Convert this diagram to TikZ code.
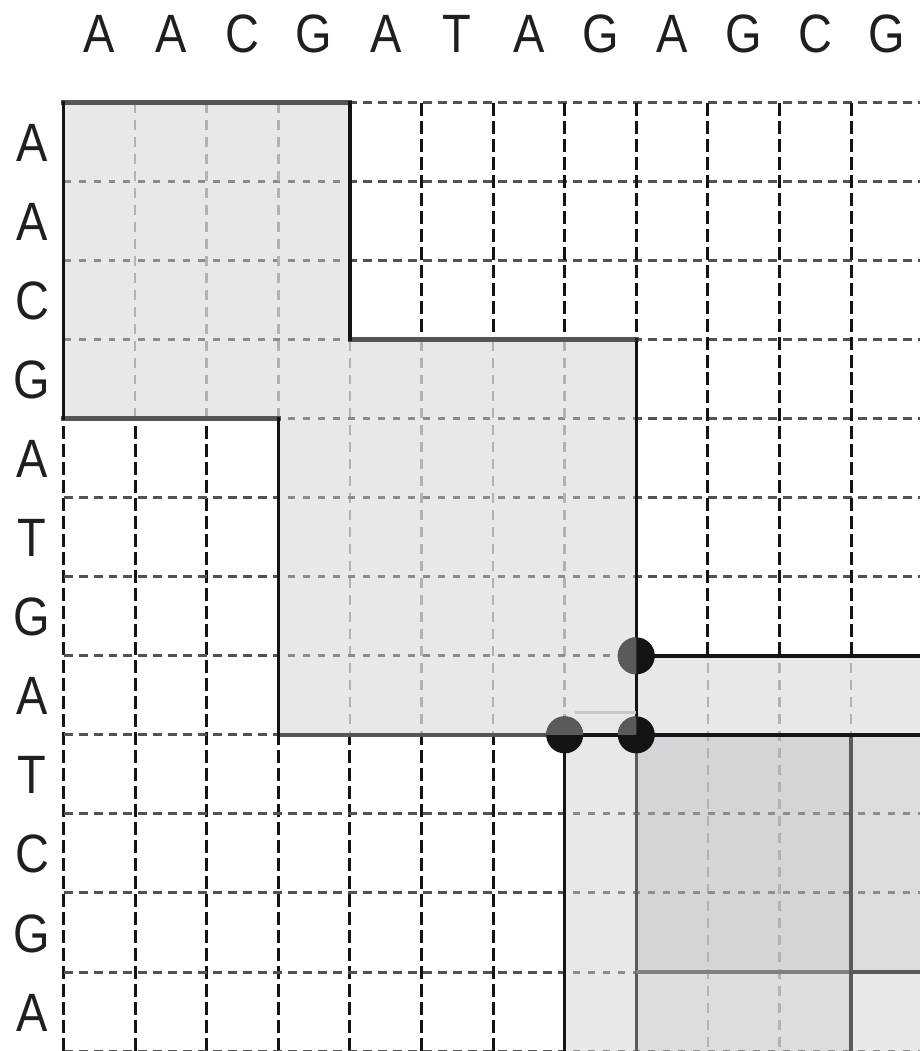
\documentclass[tikz,border=0pt]{standalone}
\usepackage{fontspec}
\setmainfont{Liberation Sans}
\definecolor{shadeA}{HTML}{E8E8EA}
\definecolor{shadeB}{HTML}{DCDDE0}
\definecolor{shadeC}{HTML}{D4D5D8}
\definecolor{dotgray}{HTML}{5A5A5A}
\definecolor{edgegray}{HTML}{555555}
\definecolor{midgray}{HTML}{808080}
\definecolor{faint}{HTML}{C8C8C8}
\newcommand\sqlab[1]{\scalebox{0.87}[1]{#1}}
\begin{document}
\begin{tikzpicture}[x=71.6pt,y=-79.05pt,
  lab/.style={font=\fontsize{54}{60}\selectfont, inner sep=0pt, outer sep=0pt, text height=39pt, text depth=0pt, anchor=center, text=black!88},
  vgrid/.style={black!92, line width=3pt, dash pattern=on 13pt off 5pt},
  hgrid/.style={black!68, line width=3pt, dash pattern=on 9pt off 6pt},
  vlight/.style={black!30, line width=2.5pt, dash pattern=on 10pt off 7pt},
  hlight/.style={black!45, line width=3pt, dash pattern=on 7pt off 8pt},
  blackedge/.style={black!92, line width=3.5pt, line cap=rect},
  grayedge/.style={edgegray, line width=4.5pt, line cap=rect},
  lowedge/.style={dotgray, line width=3.5pt, line cap=rect},
  dot/.style={circle, fill=black!92, inner sep=0pt, outer sep=0pt, minimum size=37pt}
]
\useasboundingbox (-0.8869,-1.2967) rectangle (11.962,11.999);

% labels
\foreach \l [count=\i] in {A,A,C,G,A,T,A,G,A,G,C,G}
  \node[lab] (c\i) at (\i-0.5,-0.879) {\sqlab{\l}};
\foreach \l [count=\i] in {A,A,C,G,A,T,G,A,T,C,G,A}
  \node[lab] (r\i) at (-0.44,\i-0.5) {\sqlab{\l}};

% dark dashed grid (visible in white area)
\foreach \k in {0,...,12} {
  \draw[vgrid] (\k,0) -- (\k,12.1);
  \draw[hgrid] (0,\k) -- (12.1,\k);
}

% shaded regions
\path[fill=shadeA] (0,0) -- (4,0) -- (4,3) -- (8,3) -- (8,8) -- (3,8) -- (3,4) -- (0,4) -- cycle;
\path[fill=shadeA] (8,7) rectangle (12.1,8);
\path[fill=shadeA] (7,8) rectangle (12.1,12.1);
\path[fill=shadeB] (8,8) rectangle (11,12.1);
\path[fill=shadeB] (8,8) rectangle (12.1,11);
\path[fill=shadeC] (8,8) rectangle (11,11);

% light dashed grid inside the shaded regions
\begin{scope}
  \clip (0,0) -- (4,0) -- (4,3) -- (8,3) -- (8,8) -- (3,8) -- (3,4) -- (0,4) -- cycle;
  \foreach \k in {0,...,12} {
    \draw[vlight] (\k,0) -- (\k,12.1);
    \draw[hlight] (0,\k) -- (12.1,\k);
  }
\end{scope}
\begin{scope}
  \clip (8,7) rectangle (12.1,8);
  \foreach \k in {0,...,12} {
    \draw[vlight] (\k,0) -- (\k,12.1);
    \draw[hlight] (0,\k) -- (12.1,\k);
  }
\end{scope}
\begin{scope}
  \clip (7,8) rectangle (12.1,12.1);
  \foreach \k in {0,...,12} {
    \draw[vlight] (\k,0) -- (\k,12.1);
    \draw[hlight] (0,\k) -- (12.1,\k);
  }
\end{scope}

% region borders
\draw[grayedge, line width=5pt] (0,0) -- (4,0);
\draw[grayedge] (4,3) -- (8,3);
\draw[grayedge] (0,4) -- (3,4);
\draw[grayedge, line width=3.5pt] (3,8) -- (7,8);
\draw[blackedge] (0,0) -- (0,4);
\draw[blackedge] (4,0) -- (4,3);
\draw[blackedge] (8,3) -- (8,8);
\draw[blackedge] (3,4) -- (3,8);
\draw[blackedge] (8,7) -- (12.1,7);
\draw[lowedge] (8,8) -- (8,12.1);
\draw[lowedge] (11,8) -- (11,12.1);
\draw[midgray, line width=3.5pt] (8,11) -- (11,11);
\draw[lowedge] (11,11) -- (12.1,11);
\draw[blackedge] (7,8) -- (12.1,8);
\draw[blackedge] (7,8) -- (7,12.1);
\draw[faint, line width=3pt] (7.15,7.722) -- (8,7.722);

% dots
\node[dot] (d1) at (8,7) {};
\node[dot] (d2) at (7,8) {};
\node[dot] (d3) at (8,8) {};
\fill[dotgray] (d1.north) arc[start angle=90, end angle=270, radius=18.5pt] -- cycle;
\fill[dotgray] (d2.east) arc[start angle=0, end angle=180, radius=18.5pt] -- cycle;
\fill[dotgray] (d3.center) -- (d3.north) arc[start angle=90, end angle=180, radius=18.5pt] -- cycle;
\end{tikzpicture}
\end{document}
